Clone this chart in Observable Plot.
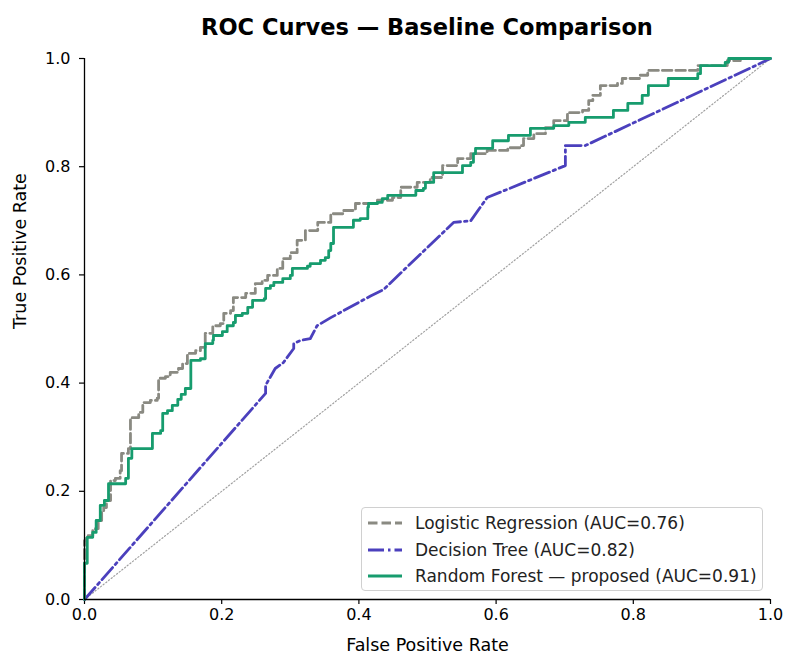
<!DOCTYPE html>
<html>
<head>
<meta charset="utf-8">
<script src="https://cdn.jsdelivr.net/npm/d3@7"></script>
<script src="https://cdn.jsdelivr.net/npm/@observablehq/plot@0.6"></script>
<style>
  body { margin: 0; background: #fff; font-family: "DejaVu Sans", sans-serif; }
  #wrap { position: relative; width: 785px; height: 658px; overflow: hidden; }
  #title { height: 40px; line-height: 54px; padding-left: 84px; width: 686px; text-align: center;
           font-weight: bold; font-size: 22.5px; color: #000; box-sizing: content-box; white-space: nowrap; }
  #legend { position: absolute; left: 361px; top: 507px; width: 402px; height: 84px;
            border: 1px solid #d0d0d0; border-radius: 4px; background: rgba(255,255,255,0.85);
            box-sizing: border-box; }
  .row { position: absolute; left: 0; height: 26px; display: flex; align-items: center; font-size: 17px; color: #222; white-space: nowrap; }
  .row svg { margin-left: 5px; margin-right: 12px; }
</style>
</head>
<body>
<div id="wrap">
  <div id="title">ROC Curves — Baseline Comparison</div>
  <div id="chart"></div>
  <div id="legend"></div>
</div>
<script>
// ---- data ----
const seriesNames = [
  "Logistic Regression (AUC=0.76)",
  "Decision Tree (AUC=0.82)",
  "Random Forest — proposed (AUC=0.91)"
];
const tickValues = [0, 0.2, 0.4, 0.6, 0.8, 1.0];

// Logistic Regression: staircase (x where TPR jumps, new TPR)
const lrFpr = [0, 0, 0.003, 0.012, 0.016, 0.020, 0.025, 0.028, 0.032, 0.038, 0.045, 0.052, 0.054, 0.064, 0.067, 0.079, 0.085, 0.096, 0.106, 0.108, 0.118, 0.125, 0.137, 0.143, 0.150, 0.162, 0.169, 0.176, 0.187, 0.198, 0.203, 0.213, 0.217, 0.235, 0.249, 0.259, 0.267, 0.281, 0.289, 0.300, 0.310, 0.322, 0.340, 0.359, 0.378, 0.395, 0.427, 0.449, 0.461, 0.485, 0.504, 0.522, 0.544, 0.563, 0.587, 0.617, 0.636, 0.640, 0.655, 0.672, 0.684, 0.704, 0.726, 0.735, 0.741, 0.752, 0.777, 0.784, 0.810, 0.821, 0.894, 0.937, 0.956, 1.0];
const lrTpr = [0, 0.109, 0.118, 0.128, 0.131, 0.146, 0.161, 0.170, 0.183, 0.220, 0.224, 0.238, 0.270, 0.279, 0.336, 0.346, 0.364, 0.368, 0.372, 0.409, 0.412, 0.420, 0.427, 0.436, 0.455, 0.460, 0.466, 0.492, 0.506, 0.510, 0.529, 0.534, 0.558, 0.566, 0.584, 0.590, 0.599, 0.612, 0.630, 0.641, 0.664, 0.682, 0.697, 0.713, 0.719, 0.732, 0.738, 0.743, 0.762, 0.771, 0.780, 0.802, 0.815, 0.824, 0.830, 0.835, 0.839, 0.852, 0.861, 0.872, 0.885, 0.900, 0.904, 0.922, 0.932, 0.950, 0.954, 0.963, 0.969, 0.978, 0.987, 0.996, 1.0, 1.0];

// Decision Tree: polyline vertices
const dtFpr = [0, 0.264, 0.264, 0.278, 0.290, 0.305, 0.305, 0.315, 0.329, 0.339, 0.359, 0.417, 0.436, 0.538, 0.563, 0.587, 0.701, 0.701, 0.730, 1.0];
const dtTpr = [0, 0.381, 0.396, 0.427, 0.438, 0.464, 0.473, 0.479, 0.482, 0.506, 0.521, 0.561, 0.573, 0.697, 0.700, 0.743, 0.802, 0.839, 0.839, 1.0];

// Random Forest: staircase (x where TPR jumps, new TPR)
const rfFpr = [0, 0, 0.004, 0.012, 0.017, 0.023, 0.029, 0.035, 0.060, 0.064, 0.069, 0.099, 0.111, 0.114, 0.121, 0.128, 0.136, 0.141, 0.147, 0.155, 0.169, 0.176, 0.187, 0.188, 0.201, 0.208, 0.217, 0.220, 0.230, 0.238, 0.245, 0.262, 0.264, 0.271, 0.276, 0.289, 0.300, 0.303, 0.325, 0.329, 0.344, 0.351, 0.356, 0.359, 0.363, 0.392, 0.402, 0.413, 0.414, 0.427, 0.434, 0.442, 0.483, 0.494, 0.497, 0.509, 0.551, 0.563, 0.567, 0.570, 0.595, 0.618, 0.650, 0.684, 0.706, 0.730, 0.771, 0.792, 0.813, 0.822, 0.851, 0.894, 0.898, 0.934, 0.939, 1.0];
const rfTpr = [0, 0.067, 0.115, 0.124, 0.146, 0.174, 0.183, 0.214, 0.224, 0.261, 0.279, 0.307, 0.312, 0.344, 0.349, 0.359, 0.370, 0.379, 0.390, 0.442, 0.445, 0.473, 0.479, 0.488, 0.495, 0.506, 0.512, 0.525, 0.529, 0.540, 0.553, 0.556, 0.575, 0.580, 0.586, 0.593, 0.599, 0.612, 0.616, 0.621, 0.627, 0.632, 0.645, 0.658, 0.688, 0.701, 0.704, 0.725, 0.732, 0.734, 0.741, 0.747, 0.756, 0.760, 0.771, 0.789, 0.802, 0.808, 0.824, 0.834, 0.848, 0.858, 0.871, 0.876, 0.882, 0.891, 0.904, 0.917, 0.932, 0.950, 0.963, 0.972, 0.987, 0.993, 1.0, 1.0];

const chanceX = [0, 1];
const chanceY = [0, 1];

// ---- styles ----
const colors = ["#8a8a82", "#4b40bd", "#179c6e"];
const dashes = ["9.5,4", "16,4,2.5,4", null];
const lw = 2.8;

const toRows = (xs, ys) => xs.map((x, i) => ({x, y: ys[i]}));
const lr = toRows(lrFpr, lrTpr);
const dt = toRows(dtFpr, dtTpr);
const rf = toRows(rfFpr, rfTpr);
const chance = toRows(chanceX, chanceY);

const chart = Plot.plot({
  width: 785,
  height: 618,
  marginLeft: 84,
  marginRight: 15,
  marginTop: 18,
  marginBottom: 59,
  style: {fontFamily: "DejaVu Sans, sans-serif", fontSize: "16px", color: "#000", background: "#fff"},
  x: {domain: [0, 1]},
  y: {domain: [0, 1]},
  marks: [
    Plot.axisX({ticks: tickValues, tickFormat: d3.format(".1f"), tickSize: 5, tickPadding: 4, fontSize: 16, label: null, stroke: "#000", strokeWidth: 1.2}),
    Plot.axisY({ticks: tickValues, tickFormat: d3.format(".1f"), tickSize: 5, tickPadding: 9, fontSize: 16, label: null, stroke: "#000", strokeWidth: 1.2}),
    Plot.line(chance, {x: "x", y: "y", stroke: "#a0a0a0", strokeWidth: 1.2, strokeDasharray: "1.2,2.2"}),
    Plot.line(lr, {x: "x", y: "y", curve: "step-after", stroke: colors[0], strokeWidth: lw, strokeDasharray: dashes[0]}),
    Plot.line(dt, {x: "x", y: "y", stroke: colors[1], strokeWidth: lw, strokeDasharray: dashes[1]}),
    Plot.line(rf, {x: "x", y: "y", curve: "step-after", stroke: colors[2], strokeWidth: lw}),
    Plot.ruleX([0], {stroke: "#000", strokeWidth: 1.3}),
    Plot.ruleY([0], {stroke: "#000", strokeWidth: 1.3}),
    Plot.text(["False Positive Rate"], {frameAnchor: "bottom", dy: 51, fontSize: 17.5, fill: "#000"}),
    Plot.text(["True Positive Rate"], {frameAnchor: "left", dx: -64, rotate: -90, fontSize: 17.5, fill: "#000"})
  ]
});
document.getElementById("chart").appendChild(chart);

// ---- legend ----
const legend = document.getElementById("legend");
const rowTops = [2, 29, 55];
seriesNames.forEach((name, i) => {
  const row = document.createElement("div");
  row.className = "row";
  row.style.top = rowTops[i] + "px";
  const svg = d3.create("svg").attr("width", 36).attr("height", 10);
  svg.append("line").attr("x1", 1).attr("x2", 35).attr("y1", 5).attr("y2", 5)
    .attr("stroke", colors[i]).attr("stroke-width", lw)
    .attr("stroke-dasharray", dashes[i]);
  row.appendChild(svg.node());
  const span = document.createElement("span");
  span.textContent = name;
  row.appendChild(span);
  legend.appendChild(row);
});
</script>
</body>
</html>
